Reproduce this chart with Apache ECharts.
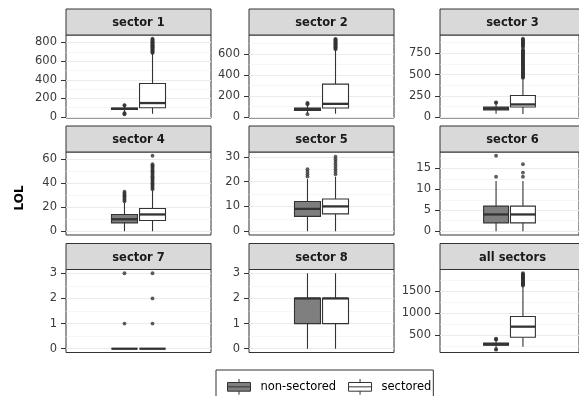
<!DOCTYPE html>
<html>
<head>
<meta charset="utf-8">
<script src="https://cdn.jsdelivr.net/npm/echarts@6/dist/echarts.min.js"></script>
<style>html,body{margin:0;padding:0;background:#fff}#c{width:579px;height:396px}</style>
</head>
<body>
<div id="c"></div>
<script>
// ---------------- data ----------------
const categories = ['sector 1', 'sector 2', 'sector 3', 'sector 4', 'sector 5', 'sector 6', 'sector 7', 'sector 8', 'all sectors'];
const groups = ['non-sectored', 'sectored'];
// box stats: [lower whisker, Q1, median, Q3, upper whisker]
const nonSectoredBoxes = [
  [60, 80, 88, 96, 118],
  [32, 63, 75, 85, 115],
  [40, 85, 100, 118, 165],
  [0, 7, 10, 14, 24],
  [0, 6, 9, 12, 21],
  [0, 2, 4, 6, 12],
  [0, 0, 0, 0, 0],
  [0, 1, 2, 2, 3],
  [200, 265, 290, 318, 390]
];
const sectoredBoxes = [
  [35, 100, 150, 360, 680],
  [31, 85, 125, 313, 640],
  [38, 120, 150, 255, 455],
  [0, 9, 14, 19, 34],
  [0, 7, 10, 13, 22],
  [0, 2, 4, 6, 12],
  [0, 0, 0, 0, 0],
  [0, 1, 2, 2, 3],
  [230, 447, 690, 923, 1616]
];
const nonSectoredOutliers = [
  [30, 36, 44, 124, 128],
  [26, 120, 128, 135],
  [170, 175],
  [25, 26, 27, 28, 29, 30, 31, 32, 33],
  [22, 23, 24, 25],
  [13, 18],
  [1, 3],
  [],
  [165, 175, 395, 405, 415]
];
const sectoredOutliers = [
  [688, 695, 701, 709, 714, 722, 729, 733, 741, 748, 752, 760, 767, 771, 779, 786, 793, 799, 806, 812, 820, 827, 833, 840],
  [646, 652, 659, 664, 671, 677, 683, 690, 696, 702, 709, 715, 721, 728, 734, 740, 745],
  [462, 470, 479, 487, 494, 503, 511, 518, 527, 535, 542, 551, 559, 566, 575, 583, 590, 599, 607, 614, 623, 631, 638, 647, 655, 662, 671, 679, 686, 695, 703, 710, 719, 727, 734, 743, 751, 758, 767, 775, 782, 790, 812, 832, 840, 848, 857, 865, 872, 881, 889, 896, 905, 913, 921],
  [35, 36, 37, 38, 39, 40, 41, 42, 43, 44, 45, 46, 47, 48, 49, 50, 51, 52, 53, 54, 55, 56, 63],
  [23, 24, 25, 26, 27, 28, 29, 30],
  [13, 14, 16],
  [1, 2, 3],
  [],
  [1628, 1641, 1652, 1666, 1679, 1690, 1704, 1716, 1729, 1741, 1755, 1768, 1780, 1793, 1806, 1818, 1831, 1845, 1858, 1870, 1884, 1897, 1910]
];
const yTicks = [
  [0, 200, 400, 600, 800],
  [0, 200, 400, 600],
  [0, 250, 500, 750],
  [0, 20, 40, 60],
  [0, 10, 20, 30],
  [0, 5, 10, 15],
  [0, 1, 2, 3],
  [0, 1, 2, 3],
  [500, 1000, 1500]
];
const yMinorTicks = [
  [100, 300, 500, 700],
  [100, 300, 500, 700],
  [125, 375, 625, 875],
  [10, 30, 50],
  [5, 15, 25],
  [2.5, 7.5, 12.5, 17.5],
  [0.5, 1.5, 2.5],
  [0.5, 1.5, 2.5],
  [250, 750, 1250, 1750]
];
const yRanges = [
  [-10.5, 880.5], [-10, 781], [-9.3, 965],
  [-3.15, 66.15], [-1.52, 31.92], [-0.9, 18.9],
  [-0.15, 3.15], [-0.15, 3.15], [100, 1995]
];
const yTitle = 'LOL';

// ---------------- layout / style ----------------
const FONT = 'DejaVu Sans';
const colLeft = [66, 249, 440];
const panelTop = [35, 152, 269.5];
const panelW = 145, panelH = 83, stripH = 26;
const X_RANGE = [0.4, 1.6], X_POS = 1, DODGE = 0.116, BOX_W = 0.215;
const fills = ['#7f7f7f', '#ffffff'];
const INK = '#333333';

function renderBox(params, api) {
  const x = api.value(0);
  const lo = api.coord([x, api.value(1)]);
  const q1 = api.coord([x, api.value(2)]);
  const md = api.coord([x, api.value(3)]);
  const q3 = api.coord([x, api.value(4)]);
  const hi = api.coord([x, api.value(5)]);
  const w = api.size([BOX_W, 0])[0];
  const fill = api.visual('color');
  return {
    type: 'group',
    children: [
      { type: 'line', shape: { x1: lo[0], y1: lo[1], x2: q1[0], y2: q1[1] }, style: { stroke: INK, lineWidth: 1.1 } },
      { type: 'line', shape: { x1: q3[0], y1: q3[1], x2: hi[0], y2: hi[1] }, style: { stroke: INK, lineWidth: 1.1 } },
      { type: 'rect', shape: { x: q1[0] - w / 2, y: q3[1], width: w, height: Math.max(q1[1] - q3[1], 0) }, style: { fill: fill, stroke: INK, lineWidth: 1.1 } },
      { type: 'line', shape: { x1: md[0] - w / 2, y1: md[1], x2: md[0] + w / 2, y2: md[1] }, style: { stroke: INK, lineWidth: 2.3 } }
    ]
  };
}

const grids = [], xAxes = [], yAxes = [], series = [], graphics = [];
categories.forEach((cat, i) => {
  const col = i % 3, row = Math.floor(i / 3);
  const left = colLeft[col], top = panelTop[row];
  grids.push({ left: left, top: top, width: panelW, height: panelH, show: true, backgroundColor: '#fff', borderColor: INK, borderWidth: 1, containLabel: false });
  xAxes.push({ type: 'value', gridIndex: i, min: X_RANGE[0], max: X_RANGE[1], show: false });
  yAxes.push({
    type: 'value', gridIndex: i, min: yRanges[i][0], max: yRanges[i][1], position: 'left',
    axisLine: { show: false },
    axisTick: { show: true, length: 5, customValues: yTicks[i], lineStyle: { color: INK, width: 1 } },
    axisLabel: { customValues: yTicks[i], margin: 9, color: '#3a3a3a', fontFamily: FONT, fontSize: 11.5, formatter: v => String(v) },
    splitLine: { show: true, lineStyle: { color: '#ebebeb', width: 1 } }
  });
  yAxes.push({
    type: 'value', gridIndex: i, min: yRanges[i][0], max: yRanges[i][1], position: 'right',
    axisLine: { show: false }, axisLabel: { show: false },
    axisTick: { show: false, customValues: yMinorTicks[i] },
    splitLine: { show: true, lineStyle: { color: '#f1f1f1', width: 0.6 } }
  });
  const boxSets = [nonSectoredBoxes[i], sectoredBoxes[i]];
  const outSets = [nonSectoredOutliers[i], sectoredOutliers[i]];
  groups.forEach((g, k) => {
    const xp = X_POS + (k === 0 ? -DODGE : DODGE);
    series.push({
      type: 'custom', name: g, xAxisIndex: i, yAxisIndex: 2 * i,
      itemStyle: { color: fills[k], borderColor: INK, borderWidth: 1 },
      encode: { x: 0, y: [1, 2, 3, 4, 5] },
      data: [[xp].concat(boxSets[k])],
      renderItem: renderBox, silent: true, z: 3
    });
    series.push({
      type: 'scatter', name: g + ' outliers', xAxisIndex: i, yAxisIndex: 2 * i,
      symbolSize: 3.8, itemStyle: { color: INK }, silent: true, z: 4,
      data: outSets[k].map(v => [xp, v])
    });
  });
  graphics.push({
    type: 'rect', shape: { x: left, y: top - stripH, width: panelW, height: stripH },
    style: { fill: '#d9d9d9', stroke: INK, lineWidth: 1 }, z: 10
  });
  graphics.push({
    type: 'text', x: left + panelW / 2, y: top - stripH / 2 + 1.2, z: 11,
    style: { text: cat, fill: '#1a1a1a', font: 'bold 11.5px "' + FONT + '"', align: 'center', verticalAlign: 'middle' }
  });
});
graphics.push({
  type: 'text', x: 20, y: 198, rotation: Math.PI / 2, z: 11,
  style: { text: yTitle, fill: '#000', font: 'bold 12px "' + FONT + '"', align: 'center', verticalAlign: 'middle' }
});

const chart = echarts.init(document.getElementById('c'), null, { renderer: 'canvas' });
chart.setOption({
  animation: false,
  backgroundColor: '#fff',
  grid: grids, xAxis: xAxes, yAxis: yAxes, series: series,
  graphic: graphics,
  legend: {
    data: [
      { name: groups[0], itemStyle: { color: fills[0], borderColor: INK, borderWidth: 1 } },
      { name: groups[1], itemStyle: { color: fills[1], borderColor: INK, borderWidth: 1 } }
    ],
    left: 216, top: 370, orient: 'horizontal',
    padding: [8.5, 2, 8, 11], itemGap: 12,
    itemWidth: 23, itemHeight: 15.7, symbolKeepAspect: false,
    icon: 'path://M11.5,0L11.5,3.5M0,3.5L23,3.5L23,12.2L0,12.2ZM0,7.85L23,7.85M11.5,12.2L11.5,15.7',
    borderColor: INK, borderWidth: 1, selectedMode: false,
    textStyle: { fontFamily: FONT, fontSize: 11.5, color: '#000', padding: [0, 0, 0, 5] }
  }
});
</script>
</body>
</html>
